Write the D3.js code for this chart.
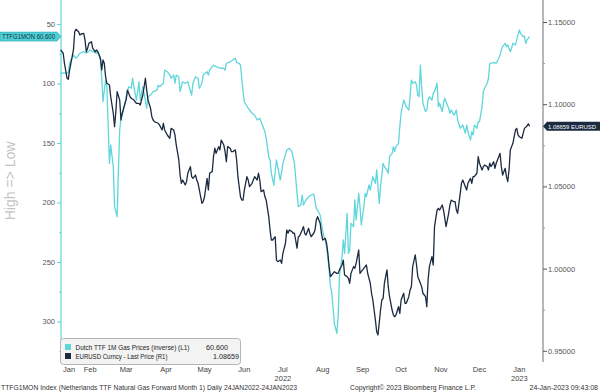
<!DOCTYPE html>
<html><head><meta charset="utf-8">
<script src="https://cdn.jsdelivr.net/npm/d3@7"></script>
<style>body{margin:0;background:#fff}svg{display:block}text{font-family:"Liberation Sans",Arial,sans-serif}</style>
</head><body><svg id="c" width="600" height="392"></svg>
<script>
const ttfDates = ["2022-01-24","2022-01-30","2022-01-31","2022-02-03","2022-02-05","2022-02-08","2022-02-11","2022-02-13","2022-02-16","2022-02-18","2022-02-21","2022-02-22","2022-02-24","2022-02-25","2022-02-26","2022-02-28","2022-03-01","2022-03-03","2022-03-04","2022-03-06","2022-03-07","2022-03-09","2022-03-10","2022-03-11","2022-03-12","2022-03-14","2022-03-15","2022-03-17","2022-03-18","2022-03-20","2022-03-21","2022-03-22","2022-03-24","2022-03-25","2022-03-26","2022-03-27","2022-03-29","2022-03-30","2022-04-01","2022-04-02","2022-04-04","2022-04-06","2022-04-09","2022-04-10","2022-04-11","2022-04-14","2022-04-15","2022-04-17","2022-04-19","2022-04-20","2022-04-22","2022-04-23","2022-04-24","2022-04-26","2022-04-27","2022-04-29","2022-05-01","2022-05-03","2022-05-04","2022-05-06","2022-05-07","2022-05-09","2022-05-11","2022-05-12","2022-05-14","2022-05-15","2022-05-18","2022-05-19","2022-05-20","2022-05-23","2022-05-25","2022-05-28","2022-05-31","2022-06-01","2022-06-02","2022-06-05","2022-06-07","2022-06-09","2022-06-10","2022-06-12","2022-06-13","2022-06-15","2022-06-16","2022-06-19","2022-06-22","2022-06-24","2022-06-26","2022-06-28","2022-06-29","2022-07-02","2022-07-03","2022-07-05","2022-07-06","2022-07-07","2022-07-09","2022-07-10","2022-07-11","2022-07-12","2022-07-14","2022-07-16","2022-07-19","2022-07-21","2022-07-23","2022-07-25","2022-07-27","2022-07-28","2022-07-30","2022-07-31","2022-08-01","2022-08-03","2022-08-05","2022-08-07","2022-08-09","2022-08-11","2022-08-12","2022-08-14","2022-08-15","2022-08-16","2022-08-19","2022-08-21","2022-08-22","2022-08-23","2022-08-24","2022-08-25","2022-08-27","2022-08-28","2022-08-29","2022-08-31","2022-09-01","2022-09-02","2022-09-04","2022-09-05","2022-09-06","2022-09-07","2022-09-09","2022-09-10","2022-09-11","2022-09-13","2022-09-14","2022-09-15","2022-09-17","2022-09-18","2022-09-19","2022-09-21","2022-09-22","2022-09-23","2022-09-24","2022-09-26","2022-09-27","2022-09-28","2022-09-29","2022-09-30","2022-10-02","2022-10-03","2022-10-05","2022-10-06","2022-10-07","2022-10-09","2022-10-10","2022-10-11","2022-10-12","2022-10-14","2022-10-15","2022-10-16","2022-10-18","2022-10-19","2022-10-20","2022-10-22","2022-10-23","2022-10-24","2022-10-25","2022-10-27","2022-10-28","2022-10-29","2022-10-30","2022-10-31","2022-11-01","2022-11-02","2022-11-04","2022-11-05","2022-11-06","2022-11-07","2022-11-09","2022-11-10","2022-11-11","2022-11-13","2022-11-14","2022-11-15","2022-11-17","2022-11-18","2022-11-19","2022-11-20","2022-11-22","2022-11-23","2022-11-24","2022-11-26","2022-11-27","2022-11-28","2022-11-29","2022-12-01","2022-12-02","2022-12-03","2022-12-05","2022-12-06","2022-12-07","2022-12-09","2022-12-10","2022-12-11","2022-12-12","2022-12-14","2022-12-15","2022-12-16","2022-12-18","2022-12-19","2022-12-20","2022-12-22","2022-12-23","2022-12-24","2022-12-27","2022-12-29","2022-12-31","2023-01-01","2023-01-02","2023-01-03","2023-01-05","2023-01-06","2023-01-07","2023-01-09","2023-01-10","2023-01-11","2023-01-13","2023-01-14","2023-01-15","2023-01-16","2023-01-17","2023-01-19","2023-01-20","2023-01-21","2023-01-22","2023-01-24"];
const ttfValues = [91.4,90.9,83.0,76.1,78.8,74.6,73.3,74.6,71.8,73.3,74.6,73.3,80.3,94.3,115.3,97.1,102.7,167.1,151.7,169.9,203.5,211.9,172.7,139.1,129.2,122.3,116.6,106.9,102.7,104.0,95.6,102.7,113.9,106.9,98.5,113.9,102.7,108.2,120.8,111.1,109.7,106.9,105.5,101.3,102.7,99.8,88.7,90.1,92.9,95.6,92.9,99.8,92.9,94.3,106.9,98.5,99.8,98.5,102.7,109.7,99.8,94.3,95.6,104.0,99.8,92.9,90.1,92.9,88.7,84.5,85.9,87.2,87.2,88.7,83.0,81.7,80.3,78.8,82.5,83.0,84.5,106.9,115.3,120.8,125.0,126.5,130.7,129.2,132.1,140.5,146.1,161.5,164.3,175.5,185.3,174.1,164.3,169.9,181.1,167.1,155.9,154.5,157.3,167.1,192.3,203.5,202.1,193.7,202.1,197.9,195.1,193.7,192.9,204.9,206.3,210.5,217.5,224.5,237.1,256.7,270.8,275.0,287.6,301.5,309.9,295.9,262.4,245.5,231.5,242.7,209.1,242.7,240.1,217.5,220.3,197.9,214.7,192.3,203.5,218.9,203.5,192.3,195.1,185.3,189.5,183.9,178.3,183.9,172.7,186.7,200.7,186.7,167.1,169.9,172.7,175.5,161.5,158.7,153.1,157.3,153.1,150.3,136.3,125.0,113.9,116.6,119.5,122.3,111.1,97.1,99.8,98.5,101.3,109.7,111.1,84.5,102.7,116.6,123.7,122.3,113.9,111.1,113.9,108.2,106.9,99.8,119.5,116.6,123.7,116.6,112.4,115.3,120.8,125.0,122.3,126.5,125.0,122.3,130.7,137.6,136.3,134.9,141.8,134.9,140.5,147.5,140.5,143.3,134.9,137.6,132.1,132.1,119.5,106.9,104.0,99.8,95.6,83.0,82.5,83.0,78.8,76.1,71.8,69.1,66.2,69.1,67.6,73.3,70.4,66.2,67.6,63.4,59.2,55.0,57.8,60.7,60.1,66.2,63.4,60.6];

const eurDates = ["2022-01-24","2022-01-26","2022-01-27","2022-01-29","2022-01-30","2022-01-31","2022-02-02","2022-02-03","2022-02-04","2022-02-05","2022-02-07","2022-02-08","2022-02-09","2022-02-11","2022-02-12","2022-02-13","2022-02-14","2022-02-15","2022-02-17","2022-02-18","2022-02-20","2022-02-21","2022-02-22","2022-02-24","2022-02-25","2022-02-26","2022-02-27","2022-02-28","2022-03-01","2022-03-03","2022-03-04","2022-03-06","2022-03-07","2022-03-08","2022-03-09","2022-03-11","2022-03-12","2022-03-13","2022-03-14","2022-03-16","2022-03-17","2022-03-18","2022-03-19","2022-03-20","2022-03-22","2022-03-23","2022-03-24","2022-03-26","2022-03-27","2022-03-28","2022-03-29","2022-03-31","2022-04-01","2022-04-02","2022-04-04","2022-04-05","2022-04-06","2022-04-07","2022-04-10","2022-04-11","2022-04-13","2022-04-14","2022-04-15","2022-04-17","2022-04-18","2022-04-19","2022-04-20","2022-04-22","2022-04-23","2022-04-24","2022-04-26","2022-04-27","2022-04-28","2022-04-29","2022-05-01","2022-05-02","2022-05-03","2022-05-05","2022-05-06","2022-05-07","2022-05-09","2022-05-10","2022-05-11","2022-05-12","2022-05-14","2022-05-15","2022-05-16","2022-05-18","2022-05-19","2022-05-20","2022-05-22","2022-05-23","2022-05-24","2022-05-25","2022-05-27","2022-05-28","2022-05-29","2022-05-31","2022-06-01","2022-06-02","2022-06-03","2022-06-05","2022-06-06","2022-06-07","2022-06-09","2022-06-10","2022-06-11","2022-06-13","2022-06-14","2022-06-15","2022-06-16","2022-06-18","2022-06-19","2022-06-20","2022-06-22","2022-06-23","2022-06-24","2022-06-26","2022-06-27","2022-06-28","2022-06-29","2022-07-01","2022-07-02","2022-07-03","2022-07-05","2022-07-06","2022-07-07","2022-07-08","2022-07-10","2022-07-11","2022-07-12","2022-07-14","2022-07-15","2022-07-16","2022-07-18","2022-07-19","2022-07-20","2022-07-21","2022-07-23","2022-07-24","2022-07-25","2022-07-27","2022-07-28","2022-07-29","2022-07-31","2022-08-01","2022-08-02","2022-08-03","2022-08-05","2022-08-06","2022-08-07","2022-08-09","2022-08-10","2022-08-11","2022-08-12","2022-08-14","2022-08-15","2022-08-16","2022-08-18","2022-08-19","2022-08-20","2022-08-21","2022-08-22","2022-08-23","2022-08-24","2022-08-25","2022-08-27","2022-08-28","2022-08-29","2022-08-31","2022-09-01","2022-09-02","2022-09-04","2022-09-05","2022-09-06","2022-09-07","2022-09-09","2022-09-10","2022-09-11","2022-09-13","2022-09-14","2022-09-15","2022-09-17","2022-09-18","2022-09-19","2022-09-20","2022-09-22","2022-09-23","2022-09-24","2022-09-26","2022-09-27","2022-09-28","2022-09-30","2022-10-01","2022-10-02","2022-10-03","2022-10-05","2022-10-06","2022-10-07","2022-10-09","2022-10-10","2022-10-11","2022-10-12","2022-10-14","2022-10-15","2022-10-16","2022-10-18","2022-10-19","2022-10-20","2022-10-22","2022-10-23","2022-10-24","2022-10-25","2022-10-27","2022-10-28","2022-10-29","2022-10-31","2022-11-01","2022-11-02","2022-11-04","2022-11-05","2022-11-06","2022-11-07","2022-11-09","2022-11-10","2022-11-11","2022-11-13","2022-11-14","2022-11-15","2022-11-17","2022-11-18","2022-11-19","2022-11-20","2022-11-22","2022-11-23","2022-11-24","2022-11-26","2022-11-27","2022-11-28","2022-11-29","2022-12-01","2022-12-02","2022-12-03","2022-12-05","2022-12-06","2022-12-07","2022-12-09","2022-12-10","2022-12-11","2022-12-12","2022-12-14","2022-12-15","2022-12-16","2022-12-18","2022-12-19","2022-12-20","2022-12-22","2022-12-23","2022-12-24","2022-12-25","2022-12-27","2022-12-28","2022-12-29","2022-12-31","2023-01-01","2023-01-02","2023-01-03","2023-01-05","2023-01-06","2023-01-07","2023-01-08","2023-01-09","2023-01-10","2023-01-11","2023-01-13","2023-01-14","2023-01-15","2023-01-16","2023-01-18","2023-01-19","2023-01-20","2023-01-22","2023-01-23","2023-01-24"];
const eurValues = [1.1330,1.1310,1.1249,1.1158,1.1151,1.1208,1.1289,1.1330,1.1441,1.1456,1.1441,1.1421,1.1427,1.1431,1.1391,1.1319,1.1340,1.1370,1.1380,1.1340,1.1319,1.1330,1.1319,1.1279,1.1208,1.1269,1.1249,1.1167,1.1127,1.1117,1.1046,1.0945,1.0863,1.0954,1.1076,1.1026,1.0904,1.0945,1.0975,1.1026,1.1086,1.1066,1.1046,1.1036,1.1026,1.1015,1.1005,1.1005,1.0995,1.1026,1.1056,1.1158,1.1086,1.1026,1.0975,1.0924,1.0904,1.0894,1.0884,1.0873,1.0843,1.0884,1.0843,1.0813,1.0802,1.0793,1.0853,1.0843,1.0813,1.0752,1.0661,1.0569,1.0519,1.0539,1.0509,1.0529,1.0580,1.0620,1.0559,1.0549,1.0569,1.0539,1.0519,1.0478,1.0397,1.0407,1.0437,1.0549,1.0478,1.0580,1.0590,1.0681,1.0732,1.0701,1.0742,1.0722,1.0782,1.0752,1.0711,1.0650,1.0742,1.0732,1.0711,1.0711,1.0722,1.0661,1.0559,1.0437,1.0417,1.0417,1.0478,1.0559,1.0539,1.0498,1.0519,1.0539,1.0559,1.0539,1.0580,1.0539,1.0468,1.0478,1.0437,1.0417,1.0316,1.0235,1.0174,1.0174,1.0194,1.0052,1.0042,1.0052,1.0032,1.0093,1.0154,1.0235,1.0215,1.0235,1.0225,1.0215,1.0215,1.0124,1.0194,1.0198,1.0235,1.0255,1.0215,1.0204,1.0245,1.0215,1.0194,1.0215,1.0235,1.0296,1.0316,1.0276,1.0215,1.0174,1.0184,1.0154,1.0093,1.0012,0.9951,0.9961,0.9971,0.9981,0.9971,0.9971,0.9992,1.0022,1.0052,0.9961,0.9951,0.9941,0.9911,0.9971,1.0012,1.0002,1.0032,1.0113,0.9971,0.9981,1.0002,1.0012,1.0022,0.9971,0.9911,0.9850,0.9809,0.9687,0.9616,0.9596,0.9748,0.9809,0.9819,0.9911,0.9992,0.9890,0.9829,0.9748,0.9718,0.9707,0.9718,0.9768,0.9728,0.9809,0.9850,0.9789,0.9789,0.9829,0.9870,0.9890,1.0012,1.0083,1.0022,0.9951,0.9911,0.9890,0.9850,0.9829,0.9768,0.9931,1.0012,1.0073,1.0022,1.0255,1.0356,1.0367,1.0356,1.0387,1.0356,1.0306,1.0255,1.0336,1.0387,1.0417,1.0407,1.0407,1.0356,1.0336,1.0458,1.0519,1.0539,1.0498,1.0478,1.0519,1.0549,1.0519,1.0559,1.0559,1.0580,1.0681,1.0641,1.0600,1.0620,1.0630,1.0620,1.0600,1.0641,1.0620,1.0650,1.0610,1.0641,1.0681,1.0701,1.0620,1.0569,1.0610,1.0559,1.0529,1.0600,1.0722,1.0742,1.0762,1.0843,1.0853,1.0813,1.0802,1.0793,1.0823,1.0853,1.0867,1.0880,1.08659];

const leftTicks = [50, 100, 150, 200, 250, 300];
const leftMinor = [75, 125, 175, 225, 275, 325];
const rightTicks = [0.95, 1.00, 1.05, 1.10, 1.15];
const rightMinor = [0.975, 1.025, 1.075, 1.125];
const monthNames = ["Jan","Feb","Mar","Apr","May","Jun","Jul","Aug","Sep","Oct","Nov","Dec","Jan"];
const yearLabels = [{month: 6, text: "2022"}, {month: 12, text: "2023"}];
const legendNames = ["Dutch TTF 1M Gas Prices (inverse) (L1)", "EURUSD Curncy - Last Price (R1)"];
const legendValues = ["60.600", "1.08659"];
const lastTTF = 60.6, lastEUR = 1.08659;

const CYAN = "#5fd6dc", NAVY = "#1b2a3f";
const parse = d3.timeParse("%Y-%m-%d");
const start = parse("2022-01-24"), end = parse("2023-01-24");
const x = d3.scaleTime().domain([start, end]).range([60.6, 529.6]);
const yL = d3.scaleLinear().domain([50, 300]).range([24, 321.5]);
const yR = d3.scaleLinear().domain([0.95, 1.15]).range([350.8, 22]);

const svg = d3.select("#c");

// axis lines
svg.append("line").attr("x1", 61).attr("x2", 61).attr("y1", 0).attr("y2", 362).attr("stroke", CYAN).attr("stroke-width", 1.2);
svg.append("line").attr("x1", 543).attr("x2", 543).attr("y1", 0).attr("y2", 362).attr("stroke", "#6b6f75").attr("stroke-width", 1);

// left axis
const la = svg.append("g").attr("transform", "translate(61,0)")
  .call(d3.axisLeft(yL).tickValues(leftTicks).tickSize(4).tickPadding(2).tickFormat(d3.format("d")));
la.select(".domain").remove();
la.selectAll(".tick line").attr("stroke", CYAN);
la.selectAll(".tick text").attr("fill", "#555").style("font-size", "7.5px");
const lm = svg.append("g").attr("transform", "translate(61,0)")
  .call(d3.axisLeft(yL).tickValues(leftMinor).tickSize(2).tickFormat(""));
lm.select(".domain").remove();
lm.selectAll(".tick line").attr("stroke", CYAN);

// right axis
const ra = svg.append("g").attr("transform", "translate(543,0)")
  .call(d3.axisRight(yR).tickValues(rightTicks).tickSize(4).tickPadding(1).tickFormat(d3.format(".5f")));
ra.select(".domain").remove();
ra.selectAll(".tick line").attr("stroke", "#555");
ra.selectAll(".tick text").attr("fill", "#555").style("font-size", "7.5px");
const rm = svg.append("g").attr("transform", "translate(543,0)")
  .call(d3.axisRight(yR).tickValues(rightMinor).tickSize(2).tickFormat(""));
rm.select(".domain").remove();
rm.selectAll(".tick line").attr("stroke", "#999");

// lines
const ttf = ttfDates.map((d, i) => ({date: parse(d), v: ttfValues[i]}));
const eur = eurDates.map((d, i) => ({date: parse(d), v: eurValues[i]}));
svg.append("path").datum(ttf).attr("fill", "none").attr("stroke", CYAN).attr("stroke-width", 1.3)
  .attr("stroke-linejoin", "round").attr("d", d3.line().x(d => x(d.date)).y(d => yL(d.v)));
svg.append("path").datum(eur).attr("fill", "none").attr("stroke", NAVY).attr("stroke-width", 1.3)
  .attr("stroke-linejoin", "round").attr("d", d3.line().x(d => x(d.date)).y(d => yR(d.v)));

// month labels
const months = d3.timeMonth.range(d3.timeMonth.floor(start), end);
months.forEach((m, i) => {
  const ms = m < start ? start : m;
  const pos = i === 0 ? x(ms) + 8.5 : x(d3.timeDay.offset(m, 15));
  svg.append("text").attr("x", pos).attr("y", 372).attr("text-anchor", "middle")
    .attr("fill", "#444").style("font-size", "7.5px").text(monthNames[i]);
  const yl = yearLabels.find(v => v.month === i);
  if (yl) svg.append("text").attr("x", pos).attr("y", 381).attr("text-anchor", "middle")
    .attr("fill", "#444").style("font-size", "7.5px").text(yl.text);
});

// y title
svg.append("text").attr("transform", "translate(15,181) rotate(-90)").attr("text-anchor", "middle")
  .attr("fill", "#c4c4c4").style("font-size", "14px").text("High => Low");

// left tag
const ty = yL(lastTTF);
svg.append("path").attr("d", `M0,${ty-4.5}H57L61,${ty}L57,${ty+4.5}H0Z`).attr("fill", "#4fd0d6").attr("stroke", "#2aa7ad").attr("stroke-width", 0.6);
svg.append("text").attr("x", 2).attr("y", ty + 2.5).attr("fill", "#123040").style("font-size", "6.6px")
  .attr("textLength", 53).attr("lengthAdjust", "spacingAndGlyphs")
  .text("TTFG1MON " + d3.format(".3f")(lastTTF));

// right tag
const ry = yR(lastEUR);
svg.append("path").attr("d", `M543,${ry}L547,${ry-4.5}H600V${ry+4.5}H547Z`).attr("fill", NAVY);
svg.append("text").attr("x", 548).attr("y", ry + 2.4).attr("fill", "#fff").style("font-size", "6.2px")
  .attr("textLength", 48).attr("lengthAdjust", "spacingAndGlyphs")
  .text(d3.format(".5f")(lastEUR) + " EURUSD");

// legend
const lg = svg.append("g");
lg.append("rect").attr("x", 60.5).attr("y", 338.5).attr("width", 180).attr("height", 26).attr("rx", 3)
  .attr("fill", "#f3f3f3").attr("stroke", "#b5b5b5");
const valueEnds = [228, 239];
const nameLens = [114, 92];
legendNames.forEach((name, i) => {
  const yy = 344 + i * 9;
  lg.append("rect").attr("x", 65).attr("y", yy).attr("width", 6).attr("height", 6).attr("fill", i === 0 ? CYAN : NAVY);
  lg.append("text").attr("x", 75.5).attr("y", yy + 5.5).attr("fill", "#222").style("font-size", "7.2px")
    .attr("textLength", nameLens[i]).attr("lengthAdjust", "spacingAndGlyphs").text(name);
  lg.append("text").attr("x", valueEnds[i]).attr("y", yy + 5.5).attr("text-anchor", "end").attr("fill", "#222").style("font-size", "7.2px").text(legendValues[i]);
});

// footer
svg.append("text").attr("x", 1).attr("y", 390).attr("fill", "#333").style("font-size", "7px")
  .attr("textLength", 296).attr("lengthAdjust", "spacingAndGlyphs")
  .text("TTFG1MON Index (Netherlands TTF Natural Gas Forward Month 1)  Daily 24JAN2022-24JAN2023");
svg.append("text").attr("x", 350).attr("y", 390).attr("fill", "#333").style("font-size", "7px")
  .attr("textLength", 126).attr("lengthAdjust", "spacingAndGlyphs")
  .text("Copyright\u00a9 2023 Bloomberg Finance L.P.");
svg.append("text").attr("x", 598).attr("y", 390).attr("text-anchor", "end").attr("fill", "#333").style("font-size", "7px")
  .text("24-Jan-2023 09:43:08");
</script></body></html>
